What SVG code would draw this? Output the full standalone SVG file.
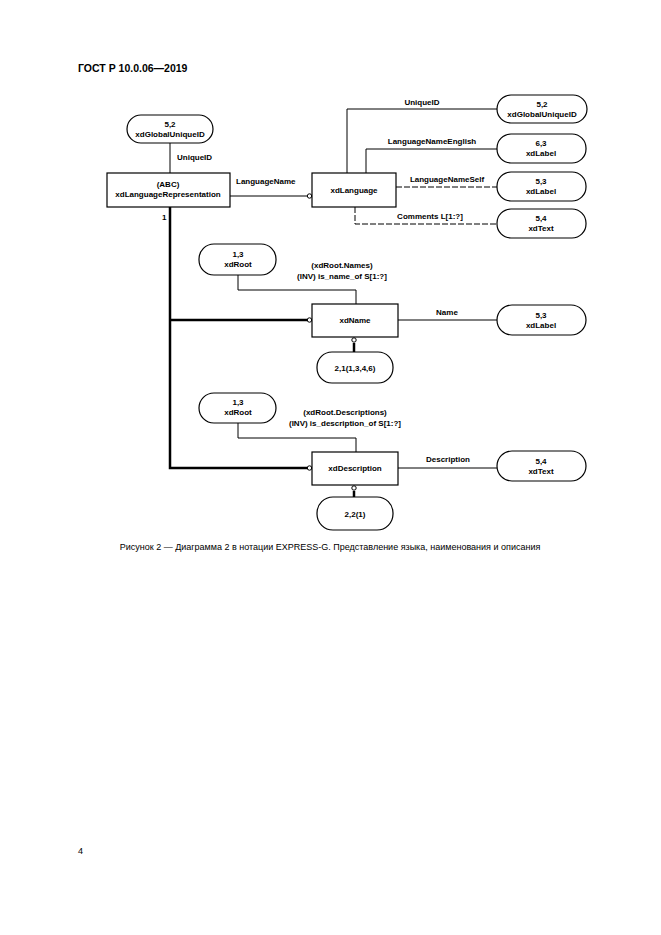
<svg xmlns="http://www.w3.org/2000/svg" width="661" height="935" viewBox="0 0 661 935">
<style>
text{font-family:"Liberation Sans",Arial,sans-serif;font-size:8px;fill:#000;font-weight:bold}
.c{text-anchor:middle}
.r{font-weight:normal}
.n rect{fill:#fff;stroke:#000;stroke-width:1.2}
.l{fill:none;stroke:#000;stroke-width:1}
.d{stroke-dasharray:6,2}
.t{stroke-width:2.5}
.o{fill:#fff;stroke:#000;stroke-width:1}
</style>
<rect width="661" height="935" fill="#fff"/>
<text x="78" y="72" style="font-size:10.5px">ГОСТ Р 10.0.06—2019</text>
<g id="connectors">
<path class="l" d="M170 142V173"/>
<path class="l" d="M230 196H308"/>
<path class="l" d="M347 173V109H497"/>
<path class="l" d="M366 173V149H497"/>
<path class="l d" d="M396 187H497"/>
<path class="l d" d="M355 207V224H497"/>
<path class="l t" d="M170 207V468H309"/>
<path class="l t" d="M170 320H309"/>
<path class="l" d="M238 275V290H356V304"/>
<path class="l" d="M398 320H497"/>
<path class="l t" d="M354 343V352"/>
<path class="l" d="M238 423V438H356V452"/>
<path class="l" d="M398 468H497"/>
<path class="l t" d="M354 491V497"/>
<circle class="o" cx="309.5" cy="196" r="2.2"/>
<circle class="o" cx="309.5" cy="320" r="2.2"/>
<circle class="o" cx="309.5" cy="468" r="2.2"/>
<circle class="o" cx="354" cy="340" r="2.2"/>
<circle class="o" cx="354" cy="488" r="2.2"/>
<text x="177" y="160">UniqueID</text>
<text x="236" y="184">LanguageName</text>
<text x="422" y="105" class="c">UniqueID</text>
<text x="432" y="144" class="c">LanguageNameEnglish</text>
<text x="447" y="182" class="c">LanguageNameSelf</text>
<text x="430" y="219" class="c">Comments L[1:?]</text>
<text x="162" y="220">1</text>
<text x="342" y="268" class="c">(xdRoot.Names)</text>
<text x="342" y="279" class="c">(INV) is_name_of S[1:?]</text>
<text x="447" y="315" class="c">Name</text>
<text x="345" y="415" class="c">(xdRoot.Descriptions)</text>
<text x="345" y="426" class="c">(INV) is_description_of S[1:?]</text>
<text x="448" y="462" class="c">Description</text>
</g>
<g id="n1" class="n"><rect x="127" y="115" width="86" height="28" rx="14"/><text x="170" y="127" class="c">5,2</text><text x="170" y="137" class="c">xdGlobalUniqueID</text></g>
<g id="n2" class="n"><rect x="107" y="173" width="123" height="34"/><text x="168" y="187" class="c">(ABC)</text><text x="168" y="197" class="c">xdLanguageRepresentation</text></g>
<g id="n3" class="n"><rect x="312" y="173" width="84" height="34"/><text x="354" y="193" class="c">xdLanguage</text></g>
<g id="n4" class="n"><rect x="497" y="95" width="90" height="28" rx="14"/><text x="542" y="107" class="c">5,2</text><text x="542" y="117" class="c">xdGlobalUniqueID</text></g>
<g id="n5" class="n"><rect x="497" y="134" width="89" height="29" rx="14"/><text x="541" y="146" class="c">6,3</text><text x="541" y="156" class="c">xdLabel</text></g>
<g id="n6" class="n"><rect x="497" y="172" width="89" height="29" rx="14"/><text x="541" y="184" class="c">5,3</text><text x="541" y="194" class="c">xdLabel</text></g>
<g id="n7" class="n"><rect x="497" y="209" width="89" height="29" rx="14"/><text x="541" y="221" class="c">5,4</text><text x="541" y="231" class="c">xdText</text></g>
<g id="n8" class="n"><rect x="199" y="244" width="77" height="31" rx="15"/><text x="238" y="257" class="c">1,3</text><text x="238" y="267" class="c">xdRoot</text></g>
<g id="n9" class="n"><rect x="312" y="304" width="86" height="33"/><text x="355" y="323" class="c">xdName</text></g>
<g id="n10" class="n"><rect x="497" y="305" width="89" height="30" rx="15"/><text x="541" y="318" class="c">5,3</text><text x="541" y="328" class="c">xdLabel</text></g>
<g id="n11" class="n"><rect x="317" y="352" width="76" height="31" rx="15"/><text x="355" y="371" class="c">2,1(1,3,4,6)</text></g>
<g id="n12" class="n"><rect x="199" y="393" width="77" height="30" rx="15"/><text x="238" y="405" class="c">1,3</text><text x="238" y="415" class="c">xdRoot</text></g>
<g id="n13" class="n"><rect x="312" y="452" width="86" height="33"/><text x="355" y="471" class="c">xdDescription</text></g>
<g id="n14" class="n"><rect x="497" y="451" width="89" height="30" rx="15"/><text x="541" y="464" class="c">5,4</text><text x="541" y="474" class="c">xdText</text></g>
<g id="n15" class="n"><rect x="317" y="497" width="76" height="33" rx="16"/><text x="355" y="517" class="c">2,2(1)</text></g>
<text x="330" y="550" class="c r" style="font-size:9px">Рисунок 2 — Диаграмма 2 в нотации EXPRESS-G. Представление языка, наименования и описания</text>
<text x="78" y="854" class="r" style="font-size:9px">4</text>
</svg>
